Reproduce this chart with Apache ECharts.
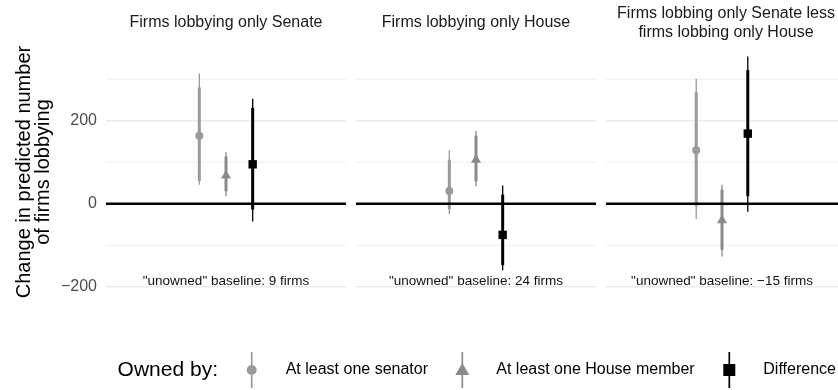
<!DOCTYPE html>
<html>
<head>
<meta charset="utf-8">
<script src="https://cdn.jsdelivr.net/npm/echarts@6/dist/echarts.min.js"></script>
<style>
  html, body { margin: 0; padding: 0; background: #ffffff; }
  #chart { width: 838px; height: 390px; }
</style>
</head>
<body>
<div id="chart"></div>
<script>
// ---- Data -------------------------------------------------------------
const panelTitles = [
  'Firms lobbying only Senate',
  'Firms lobbying only House',
  'Firms lobbing only Senate less\nfirms lobbing only House'
];
const groups = ['At least one senator', 'At least one House member', 'Difference'];
const baselineLabels = [
  '"unowned" baseline: 9 firms',
  '"unowned" baseline: 24 firms',
  '"unowned" baseline: \u221215 firms'
];
const baselineLabelY = -200;

// Point estimates with 95% (thin) and 90% (thick) intervals, one value per facet
const senatorEst  = [164, 31, 129];
const senatorLo95 = [46, -25, -37];
const senatorHi95 = [314, 129, 301];
const senatorLo90 = [55, -13, -6];
const senatorHi90 = [280, 106, 269];

const houseEst  = [68, 106, -40];
const houseLo95 = [18, 42, -127];
const houseHi95 = [124, 175, 46];
const houseLo90 = [30, 54, -111];
const houseHi90 = [114, 164, 34];

const diffEst  = [95, -75, 169];
const diffLo95 = [-43, -160, -19];
const diffHi95 = [253, 44, 355];
const diffLo90 = [-14, -148, 18];
const diffHi90 = [231, 22, 322];

const yTicks = [-200, 0, 200];
const yMinorBreaks = [-100, 100, 300];
const zeroLine = 0;

// ---- Layout & style ---------------------------------------------------
const FONT = '"Liberation Sans", Arial, Helvetica, sans-serif';
const panelLeft = [106, 356, 606];
const panelWidth = 240;
const panelTop = 46;
const panelHeight = 252;
const yMin = -227, yMax = 380;
const xCenter = 1;                       // single discrete slot per facet
const dodge = [-0.4 / 3, 0, 0.4 / 3];    // position_dodge(width = 0.4)
const groupColors = ['#9a9a9a', '#8a8a8a', '#000000'];
const groupShapes = ['circle', 'triangle', 'square'];
const legendKeyCenters = [251.7, 462.3, 729.3];

const groupValues = [
  [senatorEst, senatorLo95, senatorHi95, senatorLo90, senatorHi90],
  [houseEst, houseLo95, houseHi95, houseLo90, houseHi90],
  [diffEst, diffLo95, diffHi95, diffLo90, diffHi90]
];

function markerEl(shape, c, color) {
  const [cx, cy] = c;
  if (shape === 'circle') {
    return { type: 'circle', shape: { cx, cy, r: 4 }, style: { fill: color } };
  }
  if (shape === 'triangle') {
    return { type: 'polygon', shape: { points: [[cx, cy - 5.8], [cx + 5, cy + 2.9], [cx - 5, cy + 2.9]] }, style: { fill: color } };
  }
  return { type: 'rect', shape: { x: cx - 4.2, y: cy - 4.2, width: 8.4, height: 8.4 }, style: { fill: color } };
}

function pointRangeRenderer(shape, color) {
  return function (params, api) {
    const x = api.value(0);
    const c = api.coord([x, api.value(1)]);
    const lo95 = api.coord([x, api.value(2)])[1];
    const hi95 = api.coord([x, api.value(3)])[1];
    const lo90 = api.coord([x, api.value(4)])[1];
    const hi90 = api.coord([x, api.value(5)])[1];
    return {
      type: 'group',
      children: [
        { type: 'line', shape: { x1: c[0], y1: lo95, x2: c[0], y2: hi95 }, style: { stroke: color, lineWidth: 1.3 } },
        { type: 'line', shape: { x1: c[0], y1: lo90, x2: c[0], y2: hi90 }, style: { stroke: color, lineWidth: 3 } },
        markerEl(shape, c, color)
      ]
    };
  };
}

function hlineSeries(gi, values, style, z) {
  return {
    type: 'custom', xAxisIndex: gi, yAxisIndex: gi, z, silent: true,
    data: values.map(v => [xCenter, v]),
    renderItem: function (params, api) {
      const cs = params.coordSys;
      const y = api.coord([xCenter, api.value(1)])[1];
      return { type: 'line', shape: { x1: cs.x, y1: y, x2: cs.x + cs.width, y2: y }, style };
    }
  };
}

const grids = panelLeft.map(l => ({ left: l, top: panelTop, width: panelWidth, height: panelHeight }));
const xAxes = panelLeft.map((_, i) => ({ gridIndex: i, type: 'value', min: 0.4, max: 1.6, show: false }));
const yAxes = panelLeft.map((_, i) => ({
  gridIndex: i, type: 'value', min: yMin, max: yMax,
  axisLine: { show: false }, axisTick: { show: false }, splitLine: { show: false },
  axisLabel: i === 0 ? {
    show: true, customValues: yTicks,
    formatter: v => String(v).replace('-', '\u2212'),
    color: '#4d4d4d', fontSize: 16, fontFamily: FONT, margin: 9
  } : { show: false }
}));

const series = [];
panelLeft.forEach((_, pi) => {
  series.push(hlineSeries(pi, yMinorBreaks, { stroke: '#efefef', lineWidth: 1 }, 0));
  series.push(hlineSeries(pi, yTicks, { stroke: '#ebebeb', lineWidth: 1.6 }, 0));
  groups.forEach((g, gi) => {
    const v = groupValues[gi];
    series.push({
      type: 'custom', name: g, xAxisIndex: pi, yAxisIndex: pi, z: 2,
      itemStyle: { color: groupColors[gi] },
      data: [[xCenter + dodge[gi], v[0][pi], v[1][pi], v[2][pi], v[3][pi], v[4][pi]]],
      renderItem: pointRangeRenderer(groupShapes[gi], groupColors[gi])
    });
  });
  series.push(hlineSeries(pi, [zeroLine], { stroke: '#000000', lineWidth: 2.6 }, 3));
  series.push({
    type: 'custom', xAxisIndex: pi, yAxisIndex: pi, z: 4, silent: true,
    data: [[xCenter, baselineLabelY]],
    renderItem: function (params, api) {
      const p = api.coord([api.value(0), api.value(1)]);
      return {
        type: 'text', x: p[0], y: p[1] + 1,
        style: { text: baselineLabels[pi], fill: '#111111', font: '13.5px ' + FONT, textAlign: 'center', textVerticalAlign: 'bottom' }
      };
    }
  });
});

// Legend keys: vertical interval line with the marker on top (bbox padded to 14 x 36)
const pad = 'M0,0 L0,0.01 Z M14,36 L14,35.99 Z ';
const legendIcons = [
  'path://' + pad + 'M6.15,0 L7.85,0 L7.85,36 L6.15,36 Z M2,18 A5,5 0 1,1 12,18 A5,5 0 1,1 2,18 Z',
  'path://' + pad + 'M6.15,0 L7.85,0 L7.85,36 L6.15,36 Z M7,11 L14,23 L0,23 Z',
  'path://' + pad + 'M6.15,0 L7.85,0 L7.85,36 L6.15,36 Z M1,12 L13,12 L13,24 L1,24 Z'
];
const legends = groups.map((g, i) => ({
  data: [{ name: g, icon: legendIcons[i] }],
  left: legendKeyCenters[i] - 7, top: 352, padding: 0, orient: 'horizontal',
  itemWidth: 14, itemHeight: 36,
  selectedMode: false,
  formatter: name => '{g| }' + name,
  textStyle: { fontSize: 16, color: '#000000', fontFamily: FONT, rich: { g: { width: 22 } } }
}));

const graphics = panelTitles.map((t, i) => ({
  type: 'text', x: panelLeft[i] + panelWidth / 2, y: 23,
  style: { text: t, fill: '#1a1a1a', font: '16px ' + FONT, textAlign: 'center', textVerticalAlign: 'middle', lineHeight: 19 }
}));
graphics.push({
  type: 'text', x: 34, y: panelTop + panelHeight / 2, rotation: Math.PI / 2,
  style: { text: 'Change in predicted number\nof firms lobbying', fill: '#000000', font: '20px ' + FONT, textAlign: 'center', textVerticalAlign: 'middle', lineHeight: 19 }
});
graphics.push({
  type: 'text', x: 218, y: 370,
  style: { text: 'Owned by:', fill: '#000000', font: '21px ' + FONT, textAlign: 'right', textVerticalAlign: 'middle' }
});

const chart = echarts.init(document.getElementById('chart'), null, { renderer: 'canvas' });
chart.setOption({
  animation: false,
  backgroundColor: '#ffffff',
  grid: grids,
  xAxis: xAxes,
  yAxis: yAxes,
  legend: legends,
  graphic: graphics,
  series
});
</script>
</body>
</html>
